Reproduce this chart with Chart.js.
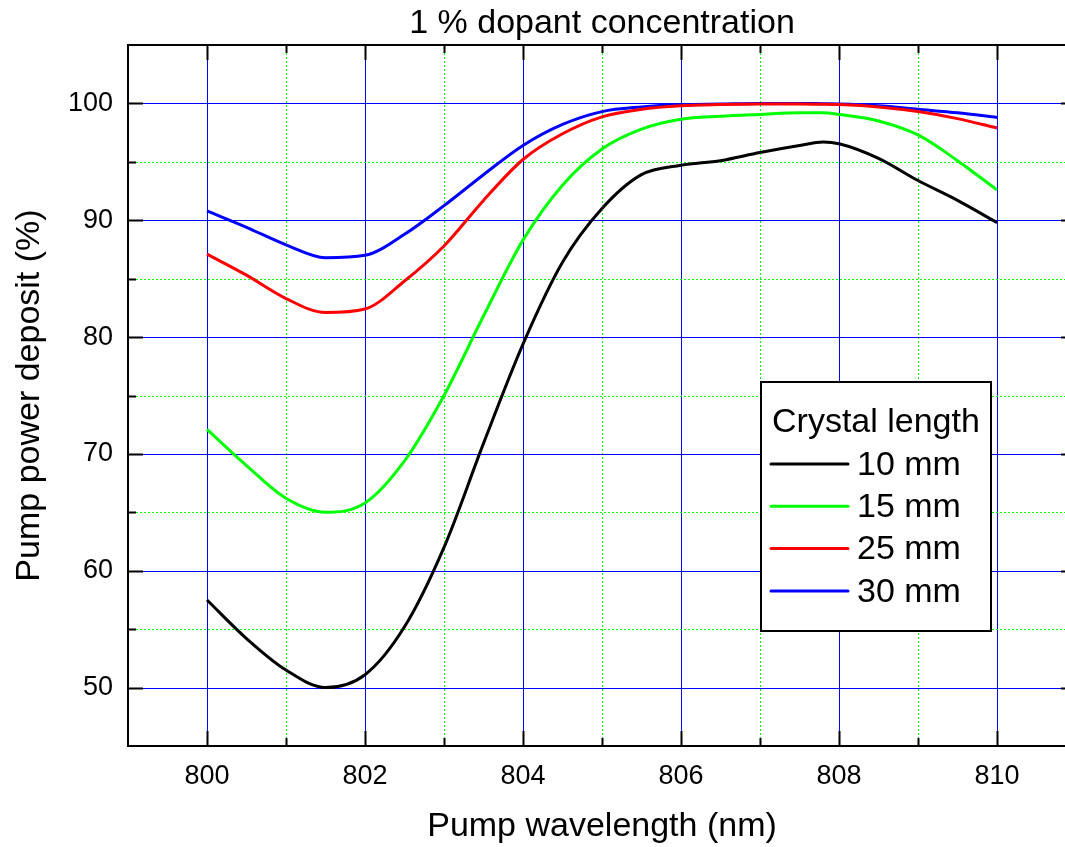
<!DOCTYPE html>
<html>
<head>
<meta charset="utf-8">
<title>Pump power deposit</title>
<script src="https://cdn.jsdelivr.net/npm/chart.js@4.4.1/dist/chart.umd.min.js"></script>
<style>
    html, body { margin: 0; padding: 0; background: #fff; overflow: hidden; }
    #wrap { position: relative; width: 1090px; height: 847px; }
</style>
</head>
<body>
<div id="wrap"><canvas id="depositChart"></canvas></div>
<script>
// pump wavelength in nm
const wavelengths = [800, 800.5, 801, 801.5, 802, 802.5, 803, 803.5, 804, 804.5, 805,
                     805.5, 806, 806.5, 807, 807.5, 807.8, 808, 808.5, 809, 809.5, 810];

// absorbed pump power in % for each crystal length
const deposit10mm = [57.5, 54.2, 51.5, 50.0, 51.1, 55.2, 62.0, 70.9, 79.4, 86.4, 91.0,
                     93.9, 94.7, 95.1, 95.8, 96.4, 96.7, 96.55, 95.3, 93.4, 91.7, 89.8];
const deposit15mm = [72.1, 69.0, 66.2, 65.0, 65.8, 69.4, 75.0, 81.8, 88.3, 93.0, 96.1,
                     97.8, 98.65, 98.9, 99.06, 99.2, 99.2, 99.06, 98.5, 97.3, 95.1, 92.6];
const deposit25mm = [87.1, 85.3, 83.3, 82.1, 82.4, 84.8, 87.8, 91.7, 95.2, 97.4, 98.85,
                     99.5, 99.8, 99.9, 99.95, 99.95, 99.93, 99.9, 99.7, 99.3, 98.7, 97.9];
const deposit30mm = [90.8, 89.4, 87.9, 86.8, 87.0, 88.8, 91.25, 93.9, 96.4, 98.2, 99.3,
                     99.7, 99.9, 99.95, 100.0, 100.0, 99.97, 99.95, 99.8, 99.5, 99.2, 98.8];

const seriesLabels = ['10 mm', '15 mm', '25 mm', '30 mm'];
const seriesColors = ['#000000', '#00ff00', '#ff0000', '#0000ff'];
const seriesValues = [deposit10mm, deposit15mm, deposit25mm, deposit30mm];

const FONT = '"Liberation Sans", Arial, Helvetica, sans-serif';
Chart.defaults.font.family = FONT;
Chart.defaults.color = '#000';

function toPoints(values) {
    return values.map((v, i) => ({ x: wavelengths[i], y: v }));
}

// major grid solid blue, minor grid dotted green
const gridLines = {
    id: 'gridLines',
    beforeDatasetsDraw(chart) {
        const { ctx, chartArea: a, scales: { x, y } } = chart;
        ctx.save();
        ctx.lineWidth = 1;
        const stroke = (x1, y1, x2, y2, major) => {
            ctx.strokeStyle = major ? '#0000ff' : '#00ff00';
            ctx.setLineDash(major ? [] : [2, 2]);
            ctx.beginPath();
            ctx.moveTo(x1, y1);
            ctx.lineTo(x2, y2);
            ctx.stroke();
        };
        x.ticks.forEach(t => {
            if (t.value <= x.min || t.value >= x.max) return;
            const px = Math.round(x.getPixelForValue(t.value)) + 0.5;
            stroke(px, a.top, px, a.bottom, t.value % 2 === 0);
        });
        y.ticks.forEach(t => {
            if (t.value <= y.min || t.value >= y.max) return;
            const py = Math.round(y.getPixelForValue(t.value)) + 0.5;
            stroke(a.left, py, a.right, py, t.value % 10 === 0);
        });
        ctx.restore();
    }
};

// boxed legend sitting inside the plot
const boxLegend = {
    id: 'boxLegend',
    afterDatasetsDraw(chart, args, opts) {
        const ctx = chart.ctx;
        ctx.save();
        ctx.fillStyle = '#fff';
        ctx.fillRect(opts.left, opts.top, opts.width, opts.height);
        ctx.strokeStyle = '#000';
        ctx.lineWidth = 2;
        ctx.strokeRect(opts.left, opts.top, opts.width, opts.height);

        ctx.font = '34px ' + FONT;
        ctx.fillStyle = '#000';
        ctx.textBaseline = 'middle';
        ctx.textAlign = 'left';
        ctx.fillText(opts.title, opts.left + 11, opts.top + 41);

        chart.data.datasets.forEach((ds, i) => {
            const cy = opts.top + 82 + i * 42.3;
            ctx.strokeStyle = ds.borderColor;
            ctx.lineWidth = 3;
            ctx.lineCap = 'round';
            ctx.beginPath();
            ctx.moveTo(opts.left + 10, cy);
            ctx.lineTo(opts.left + 87, cy);
            ctx.stroke();
            ctx.fillStyle = '#000';
            ctx.fillText(ds.label, opts.left + 96, cy + 1.5);
        });
        ctx.restore();
    }
};

// closed frame with inward ticks on all four sides
const frame = {
    id: 'frame',
    afterDraw(chart) {
        const { ctx, chartArea: a, scales: { x, y } } = chart;
        ctx.save();
        ctx.strokeStyle = '#000';
        ctx.lineWidth = 2;
        ctx.strokeRect(a.left, a.top, a.right - a.left, a.bottom - a.top);

        ctx.beginPath();
        x.ticks.forEach(t => {
            if (t.value <= x.min || t.value >= x.max) return;
            const px = Math.round(x.getPixelForValue(t.value)) + 0.5;
            const len = t.value % 2 === 0 ? 15 : 8;
            ctx.moveTo(px, a.bottom); ctx.lineTo(px, a.bottom - len);
            ctx.moveTo(px, a.top); ctx.lineTo(px, a.top + len);
        });
        y.ticks.forEach(t => {
            if (t.value <= y.min || t.value >= y.max) return;
            const py = Math.round(y.getPixelForValue(t.value)) + 0.5;
            const len = t.value % 10 === 0 ? 15 : 8;
            ctx.moveTo(a.left, py); ctx.lineTo(a.left + len, py);
            ctx.moveTo(a.right, py); ctx.lineTo(a.right - len, py);
        });
        ctx.stroke();
        ctx.restore();
    }
};

const ctx = document.getElementById('depositChart').getContext('2d');

new Chart(ctx, {
    type: 'line',
    data: {
        datasets: seriesValues.map((vals, i) => ({
            label: seriesLabels[i],
            data: toPoints(vals),
            borderColor: seriesColors[i],
            borderWidth: 3,
            pointRadius: 0,
            fill: false,
            cubicInterpolationMode: 'monotone'
        }))
    },
    options: {
        responsive: true,
        maintainAspectRatio: false,
        animation: false,
        layout: { padding: { top: 0, left: 0, right: 14, bottom: 0 } },
        scales: {
            x: {
                type: 'linear',
                min: 799,
                max: 811,
                afterFit: scale => { scale.height = 101; },
                ticks: {
                    stepSize: 1,
                    autoSkip: false,
                    maxRotation: 0,
                    padding: 14,
                    font: { size: 27 },
                    callback: v => (v % 2 === 0 && v >= 800 && v <= 810) ? String(v) : ''
                },
                grid: { display: false, drawTicks: false },
                border: { display: false },
                title: {
                    display: true,
                    text: 'Pump wavelength (nm)',
                    font: { size: 34 },
                    padding: { top: 0, bottom: 0 }
                }
            },
            y: {
                min: 45,
                max: 105,
                afterFit: scale => { scale.width = 128; },
                ticks: {
                    stepSize: 5,
                    autoSkip: false,
                    padding: 15,
                    font: { size: 27 },
                    callback: v => (v % 10 === 0 && v >= 50 && v <= 100) ? String(v) : ''
                },
                grid: { display: false, drawTicks: false },
                border: { display: false },
                title: {
                    display: true,
                    text: 'Pump power deposit (%)',
                    font: { size: 34 },
                    padding: { top: 9, bottom: 0 }
                }
            }
        },
        plugins: {
            legend: { display: false },
            tooltip: { enabled: false },
            title: {
                display: true,
                fullSize: false,
                text: '1 % dopant concentration',
                font: { size: 34, weight: 'normal', lineHeight: 1.2 },
                color: '#000',
                padding: { top: 3, bottom: 1.2 }
            },
            boxLegend: {
                left: 761,
                top: 382,
                width: 230,
                height: 249,
                title: 'Crystal length'
            }
        }
    },
    plugins: [gridLines, boxLegend, frame]
});
</script>
</body>
</html>
